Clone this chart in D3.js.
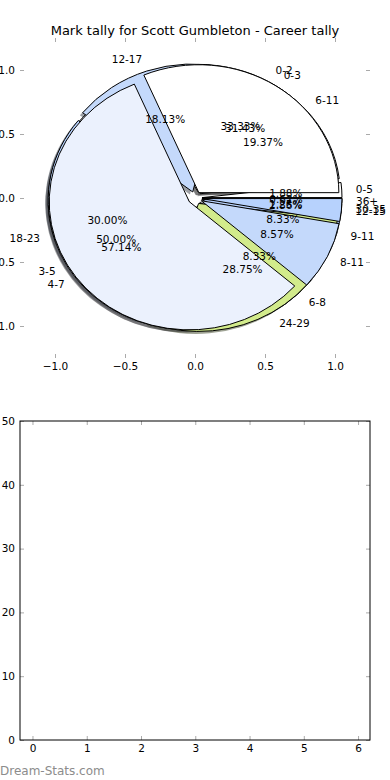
<!DOCTYPE html>
<html>
<head>
<meta charset="utf-8">
<style>
  body { margin: 0; background: #fff; }
  svg { display: block; font-family: "DejaVu Sans", sans-serif; }
</style>
</head>
<body>
<svg width="390" height="780"></svg>
<script src="https://d3js.org/d3.v7.min.js"></script>
<script>
// title and the three tallies (percent of games), drawn bottom to top
var chartTitle = "Mark tally for Scott Gumbleton - Career tally";

var labelsBy3 = ["0-2", "3-5", "6-8", "9-11"];
var valuesBy3 = [33.33, 50.00, 8.33, 8.33];

var labelsBy6 = ["0-5", "6-11", "12-17", "18-23", "24-29", "30-35", "36+"];
var valuesBy6 = [1.88, 19.37, 18.13, 30.00, 28.75, 1.25, 0.62];

var labelsBy4 = ["0-3", "4-7", "8-11", "12-15"];
var valuesBy4 = [31.43, 57.14, 8.57, 2.86];

var wedgeColors = ["#ffffff", "#ebf1fd", "#c4d9fb", "#b7d2fd", "#d2eb8b", "#dfe9f7", "#f4f4f4"];

var pieTicks = [-1.0, -0.5, 0.0, 0.5, 1.0];
var barXTicks = [0, 1, 2, 3, 4, 5, 6];
var barYTicks = [0, 10, 20, 30, 40, 50];

var svg = d3.select("svg");
var fontSize = 10.5;
var explode = 0.05;

// ---- top panel: overlapping pies ----
var x = d3.scaleLinear().domain([-1.25, 1.25]).range([20, 370]);
var y = d3.scaleLinear().domain([-1.25, 1.25]).range([358, 38]);
var kx = x(1) - x(0), ky = y(0) - y(1);

svg.append("text")
    .attr("x", 195)
    .attr("y", 30)
    .attr("dy", "0.35em")
    .attr("text-anchor", "middle")
    .attr("font-size", 13)
    .attr("fill", "#000")
    .text(chartTitle);

var shadowLayer = svg.append("g"),
    wedgeLayer = svg.append("g"),
    textLayer = svg.append("g");

var pie = d3.pie().sort(null).value(function (d) { return d; });
var arc = d3.arc()
    .innerRadius(0)
    .outerRadius(1)
    .startAngle(function (d) { return Math.PI / 2 - d.startAngle; })
    .endAngle(function (d) { return Math.PI / 2 - d.endAngle; });

function drawPie(labels, values) {
    pie(values).forEach(function (d, i) {
        var mid = (d.startAngle + d.endAngle) / 2;
        var ex = explode * Math.cos(mid), ey = explode * Math.sin(mid);
        var color = wedgeColors[i % wedgeColors.length];
        var c = d3.rgb(color);

        shadowLayer.append("path")
            .attr("transform", "translate(" + x(ex - 0.02) + "," + y(ey - 0.02) + ") scale(" + kx + "," + ky + ")")
            .attr("d", arc(d))
            .attr("fill", d3.rgb(c.r * 0.3, c.g * 0.3, c.b * 0.3))
            .attr("fill-opacity", 0.5);

        wedgeLayer.append("path")
            .attr("transform", "translate(" + x(ex) + "," + y(ey) + ") scale(" + kx + "," + ky + ")")
            .attr("d", arc(d))
            .attr("fill", color)
            .attr("stroke", "#000")
            .attr("stroke-width", 1)
            .attr("vector-effect", "non-scaling-stroke");

        var lx = ex + 1.1 * Math.cos(mid), ly = ey + 1.1 * Math.sin(mid);
        textLayer.append("text")
            .attr("x", x(lx))
            .attr("y", y(ly))
            .attr("dy", "0.35em")
            .attr("text-anchor", lx > 0 ? "start" : "end")
            .attr("font-size", fontSize)
            .text(labels[i]);

        var px = ex + 0.6 * Math.cos(mid), py = ey + 0.6 * Math.sin(mid);
        textLayer.append("text")
            .attr("x", x(px))
            .attr("y", y(py))
            .attr("dy", "0.35em")
            .attr("text-anchor", "middle")
            .attr("font-size", fontSize)
            .text(values[i].toFixed(2) + "%");
    });
}

drawPie(labelsBy3, valuesBy3);
drawPie(labelsBy6, valuesBy6);
drawPie(labelsBy4, valuesBy4);

function styleAxis(g) {
    g.select(".domain").remove();
    g.selectAll(".tick line").attr("stroke", "#aaa");
    g.selectAll(".tick text").attr("fill", "#000").attr("font-size", fontSize)
        .attr("font-family", "DejaVu Sans, sans-serif");
}

var fmt = d3.format(".1f");
svg.append("g").attr("transform", "translate(0," + y.range()[0] + ")")
    .call(d3.axisBottom(x).tickValues(pieTicks).tickSize(-4).tickPadding(5).tickFormat(fmt)).call(styleAxis);
svg.append("g").attr("transform", "translate(0," + y.range()[1] + ")")
    .call(d3.axisTop(x).tickValues(pieTicks).tickSize(-4).tickFormat("")).call(styleAxis);
svg.append("g").attr("transform", "translate(" + x.range()[0] + ",0)")
    .call(d3.axisLeft(y).tickValues(pieTicks).tickSize(-4).tickPadding(5).tickFormat(fmt)).call(styleAxis);
svg.append("g").attr("transform", "translate(" + x.range()[1] + ",0)")
    .call(d3.axisRight(y).tickValues(pieTicks).tickSize(-4).tickFormat("")).call(styleAxis);

// ---- bottom panel: empty axes ----
var x2 = d3.scaleLinear().domain([-0.23, 6.22]).range([20, 370]);
var y2 = d3.scaleLinear().domain([0, 50]).range([740, 421]);

svg.append("g").attr("transform", "translate(0,740)")
    .call(d3.axisBottom(x2).tickValues(barXTicks).tickSize(-4).tickPadding(5).tickFormat(d3.format("d"))).call(styleAxis);
svg.append("g").attr("transform", "translate(0,421)")
    .call(d3.axisTop(x2).tickValues(barXTicks).tickSize(-4).tickFormat("")).call(styleAxis);
svg.append("g").attr("transform", "translate(20,0)")
    .call(d3.axisLeft(y2).tickValues(barYTicks).tickSize(-4).tickPadding(5).tickFormat(d3.format("d"))).call(styleAxis);
svg.append("g").attr("transform", "translate(370,0)")
    .call(d3.axisRight(y2).tickValues(barYTicks).tickSize(-4).tickFormat("")).call(styleAxis);

svg.append("rect")
    .attr("x", x2.range()[0])
    .attr("y", y2.range()[1])
    .attr("width", x2.range()[1] - x2.range()[0])
    .attr("height", y2.range()[0] - y2.range()[1])
    .attr("fill", "none")
    .attr("stroke", "#000")
    .attr("stroke-width", 1);

svg.append("text")
    .attr("x", 0)
    .attr("y", 771)
    .attr("dy", "0.35em")
    .attr("font-size", 12)
    .attr("fill", "#8c8c8c")
    .text("Dream-Stats.com");
</script>
</body>
</html>
